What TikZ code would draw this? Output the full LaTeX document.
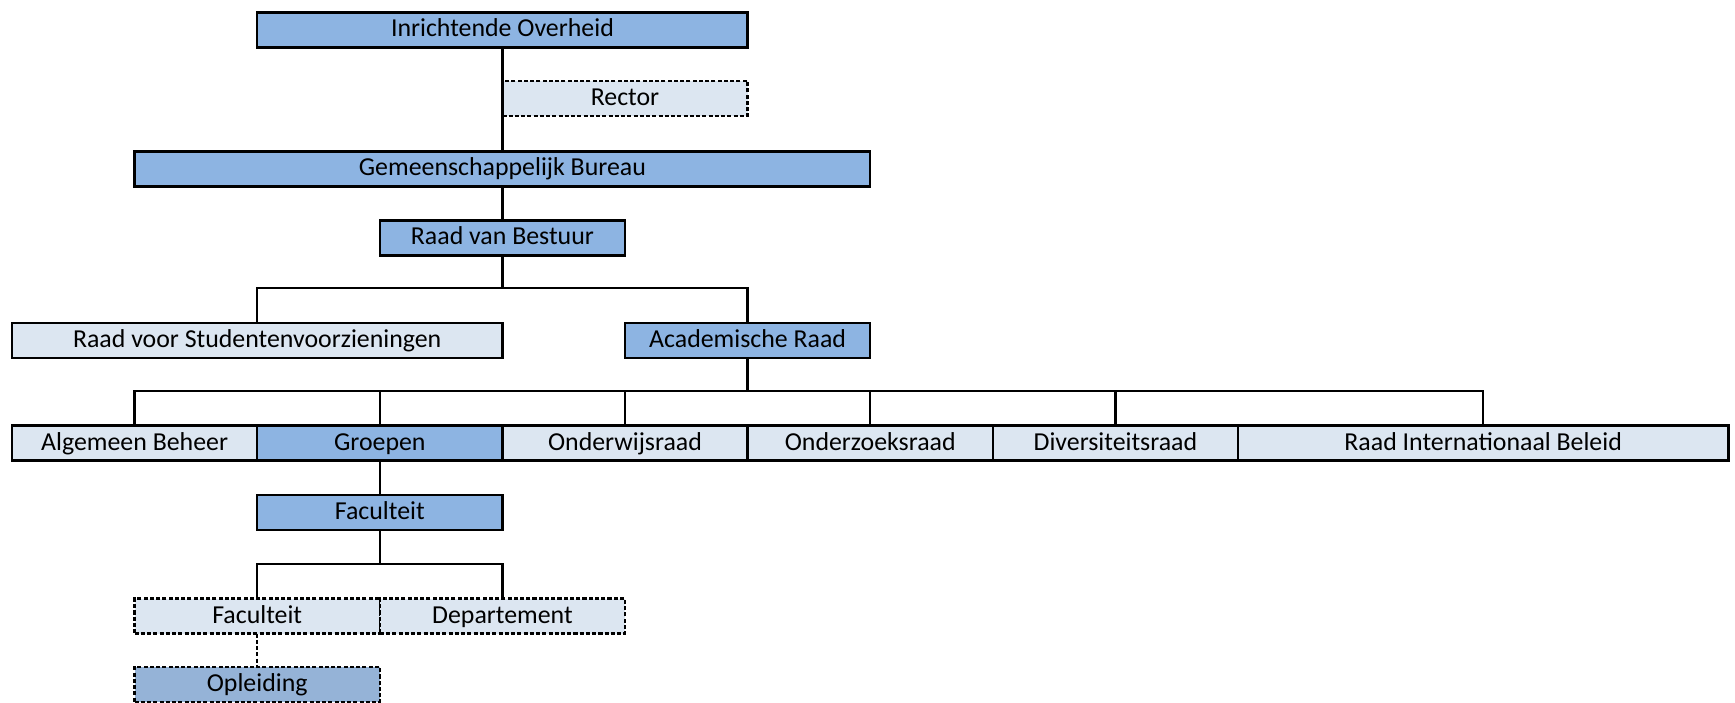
\documentclass[tikz,border=0pt]{standalone}
\usepackage{fontspec}
\setmainfont{Carlito}
\usepackage{tikz}

\definecolor{darkblue}{RGB}{141,180,226}
\definecolor{lightblue}{RGB}{220,230,241}
\definecolor{midblue}{RGB}{149,179,215}

\begin{document}
\begin{tikzpicture}[x=2cm, y=2cm,
	unit/.style={rectangle, draw=black, line width=1.1pt, inner sep=0pt, outer sep=0pt,
		minimum height=0.571cm, text height=8.8pt, text depth=2.2pt,
		font=\fontsize{12}{14}\selectfont},
	cols/.style={minimum width=#1*2cm},
	dark/.style={unit, fill=darkblue},
	light/.style={unit, fill=lightblue},
	staff/.style={dash pattern=on 1.9pt off 1pt},
	link/.style={line width=1.1pt}]
	\useasboundingbox (0,0) rectangle (14.152,-5.734);

	\node[dark, cols=4] (io) at (4.098,-0.2435) {Inrichtende Overheid};
	\node[light, staff, cols=2] (rec) at (5.098,-0.802) {Rector};
	\node[dark, cols=6] (gb) at (4.098,-1.377) {Gemeenschappelijk Bureau};
	\node[dark, cols=2] (rvb) at (4.098,-1.940) {Raad van Bestuur};
	\node[light, cols=4] (rvs) at (2.098,-2.776) {Raad voor Studentenvoorzieningen};
	\node[dark, cols=2] (ar) at (6.098,-2.776) {Academische Raad};
	\node[light, cols=2] (ab) at (1.098,-3.614) {Algemeen Beheer};
	\node[dark, cols=2] (gr) at (3.098,-3.614) {Groepen};
	\node[light, cols=2] (owr) at (5.098,-3.614) {Onderwijsraad};
	\node[light, cols=2] (ozr) at (7.098,-3.614) {Onderzoeksraad};
	\node[light, cols=2] (dr) at (9.098,-3.614) {Diversiteitsraad};
	\node[light, cols=4] (rib) at (12.098,-3.614) {Raad Internationaal Beleid};
	\node[dark, cols=2] (fac) at (3.098,-4.179) {Faculteit};
	\node[light, staff, cols=2] (fac2) at (2.098,-5.025) {Faculteit};
	\node[light, staff, cols=2] (dep) at (4.098,-5.025) {Departement};
	\node[unit, fill=midblue, staff, cols=2] (opl) at (2.098,-5.583) {Opleiding};

	\coordinate (bus1) at (0,-2.347);
	\coordinate (bus2) at (0,-3.187);
	\coordinate (bus3) at (0,-4.600);

	% Inrichtende Overheid
	\draw[link] (io) -- (gb);
	% Gemeenschappelijk Bureau
	\draw[link] (gb) -- (rvb);
	% Raad van Bestuur
	\draw[link] (rvb.south) -- (rvb |- bus1) -| (rvs.north);
	\draw[link] (rvb |- bus1) -| (ar.north);
	% Academische Raad
	\draw[link] (ar.south) -- (ar |- bus2) -| (ab.north);
	\draw[link] (ar |- bus2) -| (rib.north);
	\draw[link] (gr |- bus2) -- (gr.north);
	\draw[link] (owr |- bus2) -- (owr.north);
	\draw[link] (ozr |- bus2) -- (ozr.north);
	\draw[link] (dr |- bus2) -- (dr.north);
	% Groepen
	\draw[link] (gr) -- (fac);
	% Faculteit
	\draw[link] (fac.south) -- (fac |- bus3) -| (fac2.north);
	\draw[link] (fac |- bus3) -| (dep.north);
	\draw[link, staff] (fac2) -- (opl);
\end{tikzpicture}
\end{document}
